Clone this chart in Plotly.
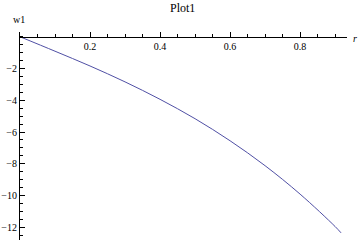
import plotly.graph_objects as go

r_vals = [0.0, 0.1, 0.2, 0.3, 0.4, 0.5, 0.6, 0.7, 0.8, 0.9, 0.917]
w_vals = [0.0, -0.91, -1.84, -2.84, -3.94, -5.16, -6.55, -8.12, -9.91, -11.95, -12.35]

x_ticks = [0.2, 0.4, 0.6, 0.8]
y_ticks = [-2, -4, -6, -8, -10, -12]

x_range = [0.0, 0.934]
y_range = [-12.8, 0.3]

serif = "Liberation Serif, Times New Roman, serif"

fig = go.Figure()
fig.add_trace(go.Scatter(x=r_vals, y=w_vals, mode="lines", line=dict(color="rgb(80,80,165)", width=1),
                         line_shape="spline", hoverinfo="skip"))

ypos = (0 - y_range[0]) / (y_range[1] - y_range[0])

fig.update_layout(
    width=360, height=240,
    margin=dict(l=20, r=13, t=32, b=0),
    paper_bgcolor="white", plot_bgcolor="white",
    showlegend=False,
    font=dict(family=serif, size=10, color="black"),
    xaxis=dict(range=x_range, anchor="free", position=ypos, side="bottom",
               showgrid=False, zeroline=False, showline=True, linecolor="black", linewidth=1,
               tickvals=x_ticks, ticktext=[f"{v:g}" for v in x_ticks],
               ticks="inside", ticklen=5, tickcolor="black", tickwidth=1,
               minor=dict(dtick=0.05, tick0=0, ticks="inside", ticklen=3, tickcolor="black", showgrid=False),
               tickfont=dict(family=serif, size=10, color="black")),
    yaxis=dict(range=y_range, showgrid=False, zeroline=False, showline=True, linecolor="black", linewidth=1,
               tickvals=y_ticks, ticktext=[f"\u2212{abs(v)}" for v in y_ticks],
               ticks="inside", ticklen=5, tickcolor="black", tickwidth=1,
               minor=dict(dtick=0.5, tick0=0, ticks="inside", ticklen=3, tickcolor="black", showgrid=False),
               tickfont=dict(family=serif, size=10, color="black")),
    annotations=[
        dict(text="Plot1", x=182, y=7, xref="paper", yref="paper", showarrow=False,
             font=dict(family=serif, size=12, color="black")),
        dict(text="w1", x=0, y=0, xref="x", yref="y", showarrow=False,
             font=dict(family=serif, size=10, color="black")),
        dict(text="<i>r</i>", x=0, y=0, xref="x", yref="y", showarrow=False,
             font=dict(family=serif, size=10, color="black")),
    ],
)

# position annotations in pixel-derived paper coords
W, H = 360, 240
L, R, T, B = 20, 13, 32, 0
def px(xp): return (xp - L) / (W - L - R)
def py(yp): return 1 - (yp - T) / (H - T - B)
ann = list(fig.layout.annotations)
ann[0].update(x=px(182), y=py(8), xref="paper", yref="paper", yanchor="middle", xanchor="center")
ann[1].update(x=px(19), y=py(20), xref="paper", yref="paper", yanchor="middle", xanchor="center")
ann[2].update(x=px(355), y=py(38), xref="paper", yref="paper", yanchor="middle", xanchor="center")
fig.layout.annotations = ann

fig.write_html("out.html")
